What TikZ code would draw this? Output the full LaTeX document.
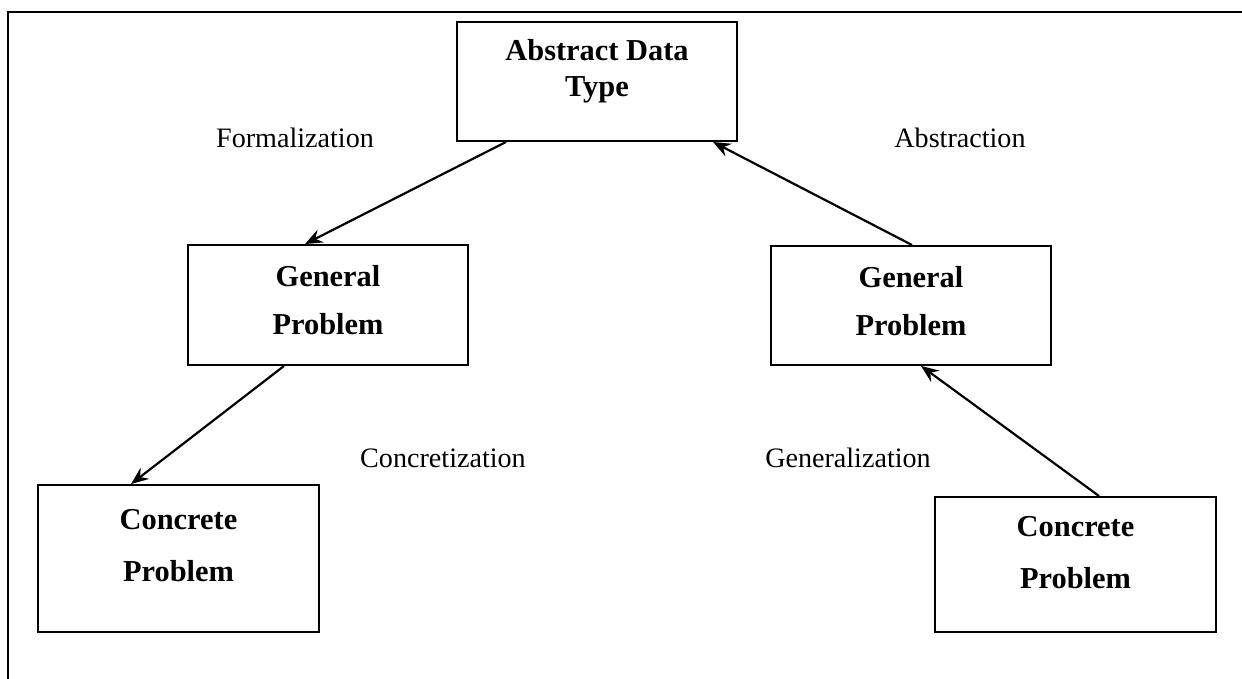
\documentclass[tikz,border=0pt]{standalone}
\usepackage{fontspec}
\setmainfont{Liberation Serif}
\usetikzlibrary{arrows.meta}

% zero-width strut that pads the last line of a box downwards
\newcommand{\lift}[1]{\rule[-#1]{0pt}{#1}}

\begin{document}
\begin{tikzpicture}[
    >={Stealth[length=10pt, width=8pt, inset=3.5pt]},
    box/.style={rectangle, draw, line width=1.1pt, align=center, inner sep=0pt,
        minimum width=5.6cm, font=\fontsize{17.3}{20.5}\selectfont\bfseries},
    link/.style={->, line width=1.25pt},
    tag/.style={font=\fontsize{16}{19}\selectfont},
]
\useasboundingbox (0,0) rectangle (24.84,-13.58);

% ---- Open frame (top and left only) ----
\draw[line width=1.1pt] (0.16,-13.58) -- (0.16,-0.24) -- (24.84,-0.24);

% ---- Boxes ----
\node[box, minimum height=2.38cm] (adt) at (11.94,-1.63)
    {Abstract Data\\Type\lift{0.54cm}};

\node[box, minimum height=2.4cm] (gpl) at (6.56,-6.1)
    {General\\[6.8pt]Problem\lift{0.2cm}};
\node[box, minimum height=2.38cm] (gpr) at (18.22,-6.11)
    {General\\[6.8pt]Problem\lift{0.2cm}};

\node[box, minimum width=5.62cm, minimum height=2.94cm] (cpl) at (3.57,-11.17)
    {Concrete\\[9.1pt]Problem\lift{0.54cm}};
\node[box, minimum width=5.62cm, minimum height=2.7cm] (cpr) at (21.51,-11.29)
    {Concrete\\[9.1pt]Problem\lift{0.48cm}};

% ---- Labels ----
\node[tag] (formal)  at (5.9,-2.76)   {Formalization};
\node[tag] (abstr)   at (19.2,-2.76)  {Abstraction};
\node[tag] (concr)   at (8.86,-9.16)  {Concretization};
\node[tag] (general) at (16.96,-9.16) {Generalization};

% ---- Arrows ----
\draw[link] ([xshift=1.0cm]adt.south west) -- ([xshift=2.36cm]gpl.north west);
\draw[link] ([xshift=2.84cm]gpr.north west) -- ([xshift=-0.5cm]adt.south east);
\draw[link] ([xshift=1.94cm]gpl.south west) -- ([xshift=1.88cm]cpl.north west);
\draw[link] ([xshift=3.3cm]cpr.north west) -- ([xshift=3.02cm]gpr.south west);

\end{tikzpicture}
\end{document}
